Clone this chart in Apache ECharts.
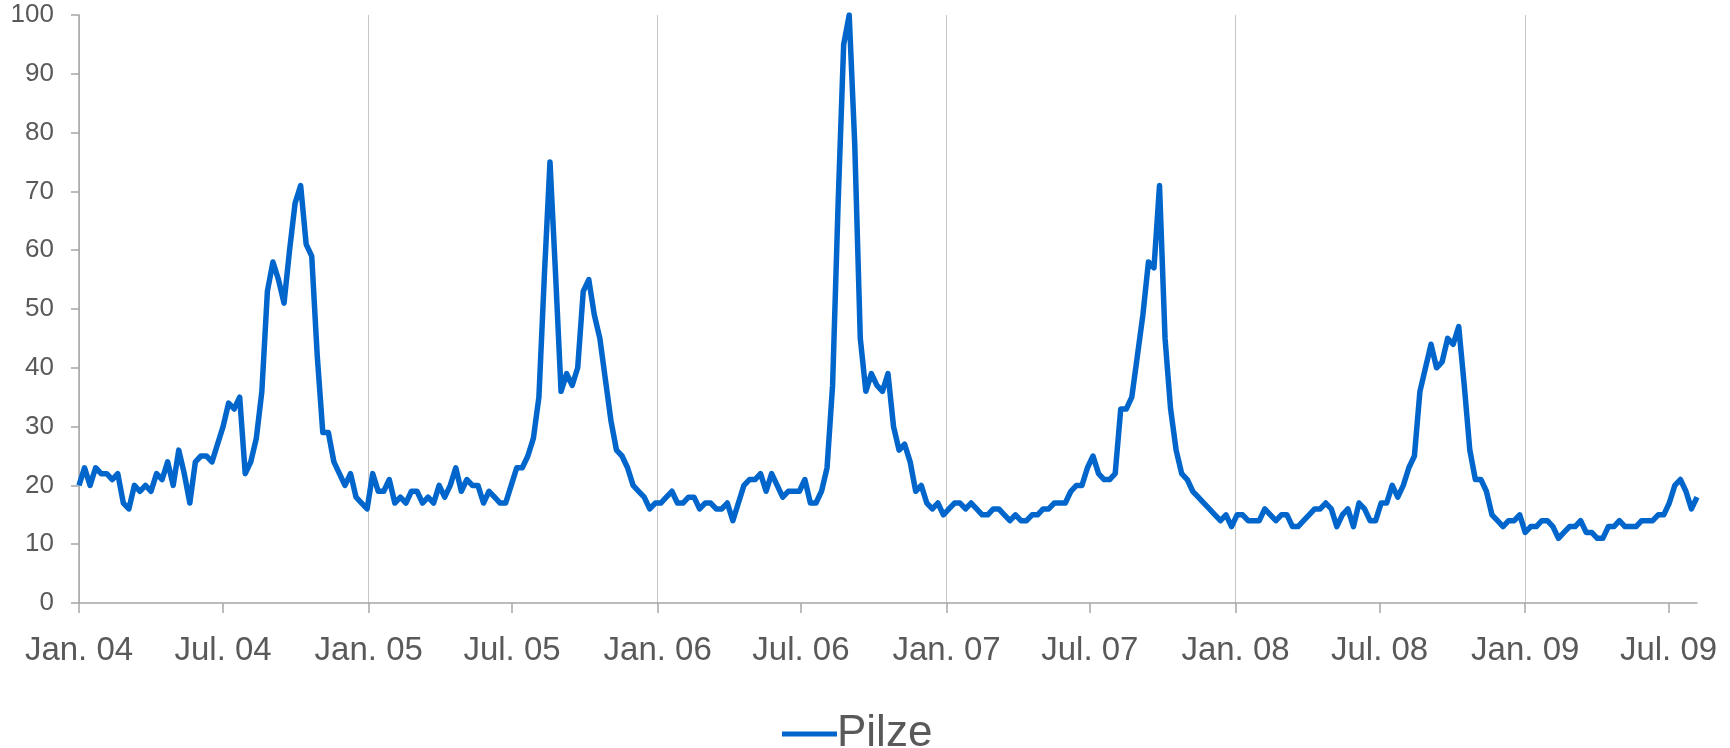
<!DOCTYPE html>
<html>
<head>
<meta charset="utf-8">
<script src="https://cdn.jsdelivr.net/npm/echarts@6/dist/echarts.min.js"></script>
<style>
html,body{margin:0;padding:0;background:#fff;}
#chart{width:1730px;height:748px;}
</style>
</head>
<body>
<div id="chart"></div>
<script>
// Weekly series (Google-Trends style index), first week starting 2004-01-04
const firstWeek = '2004-01-04';
const seriesName = 'Pilze';
const pilze = [
  20,23,20,23,22,22,21,22,17,16,20,19,20,19,22,21,24,20,26,22,17,24,25,25,24,27,30,34,33,35,22,24,28,
  36,53,58,55,51,60,68,71,61,59,42,29,29,24,22,20,22,18,17,16,22,19,19,21,17,18,17,19,19,17,18,17,20,18,20,
  23,19,21,20,20,17,19,18,17,17,20,23,23,25,28,35,56,75,56,36,39,37,40,53,55,49,45,38,31,26,25,23,20,19,
  18,16,17,17,18,19,17,17,18,18,16,17,17,16,16,17,14,17,20,21,21,22,19,22,20,18,19,19,19,21,17,17,19,23,
  37,68,95,100,78,45,36,39,37,36,39,30,26,27,24,19,20,17,16,17,15,16,17,17,16,17,16,15,15,16,16,15,14,15,
  14,14,15,15,16,16,17,17,17,19,20,20,23,25,22,21,21,22,33,33,35,42,49,58,57,71,45,33,26,22,21,19,18,17,16,
  15,14,15,13,15,15,14,14,14,16,15,14,15,15,13,13,14,15,16,16,17,16,13,15,16,13,17,16,14,14,17,17,20,18,
  20,23,25,36,40,44,40,41,45,44,47,37,26,21,21,19,15,14,13,14,14,15,12,13,13,
  14,14,13,11,12,13,13,14,12,12,11,11,13,13,14,13,13,13,14,14,14,15,15,17,20,21,19,16,18
];
// x-axis tick dates and their labels
const tickDates  = ['2004-01-04','2004-07-04','2005-01-04','2005-07-04','2006-01-04','2006-07-04',
                    '2007-01-04','2007-07-04','2008-01-04','2008-07-04','2009-01-04','2009-07-04'];
const tickLabels = ['Jan. 04','Jul. 04','Jan. 05','Jul. 05','Jan. 06','Jul. 06',
                    'Jan. 07','Jul. 07','Jan. 08','Jul. 08','Jan. 09','Jul. 09'];
const yTicks = [0,10,20,30,40,50,60,70,80,90,100];

function ts(s){ const p=s.split('-').map(Number); return Date.UTC(p[0],p[1]-1,p[2]); }
const DAY = 86400000;
const start = ts(firstWeek);
// x positions in days since the first week
const weekDays = pilze.map((_, i) => i*7);
const data = pilze.map((v, i) => [weekDays[i], v]);
const tickDay = tickDates.map(s => Math.round((ts(s) - start) / DAY));
const janDay = tickDay.filter((_, i) => tickLabels[i].indexOf('Jan') === 0);
const labelOf = {};
tickDay.forEach((d, i) => { labelOf[d] = tickLabels[i]; });
const xMin = weekDays[0], xMax = weekDays[weekDays.length-1];

const FONT = '"Liberation Sans", Arial, sans-serif';
const chart = echarts.init(document.getElementById('chart'), null, {renderer:'canvas'});
chart.setOption({
  animation: false,
  backgroundColor: '#ffffff',
  textStyle: {fontFamily: FONT},
  grid: {left: 79, right: 33, top: 15, bottom: 145, containLabel: false},
  legend: {
    data: [seriesName],
    left: 777, top: 707,
    icon: 'rect', itemWidth: 55, itemHeight: 5, itemGap: 0,
    textStyle: {fontSize: 44, color: '#595959', fontFamily: FONT, padding: [0,0,0,-5]}
  },
  xAxis: [{
    type: 'value',
    min: xMin, max: xMax,
    axisLine: {show: true, lineStyle: {color: '#a6a6a6', width: 1.5}},
    axisTick: {show: true, length: 10, lineStyle: {color: '#a6a6a6', width: 1.5}, customValues: tickDay},
    axisLabel: {
      customValues: tickDay, fontSize: 33, color: '#595959', margin: 31, fontFamily: FONT,
      formatter: v => labelOf[v] || ''
    },
    splitLine: {show: false}
  }, {
    type: 'value', position: 'bottom',
    min: xMin, max: xMax,
    axisLine: {show: false},
    axisTick: {show: false, customValues: janDay},
    axisLabel: {show: false, customValues: janDay},
    splitLine: {show: true, lineStyle: {color: '#c6c6c6', width: 1}}
  }],
  yAxis: {
    type: 'value', min: 0, max: 100, interval: 10,
    axisLine: {show: true, lineStyle: {color: '#a6a6a6', width: 1.5}},
    axisTick: {show: true, length: 8, lineStyle: {color: '#a6a6a6', width: 1.5}},
    axisLabel: {fontSize: 26, color: '#595959', margin: 25, fontFamily: FONT,
      formatter: v => yTicks.indexOf(v) >= 0 ? String(v) : ''},
    splitLine: {show: false}
  },
  series: [{
    name: seriesName, type: 'line', data: data, xAxisIndex: 0,
    showSymbol: false, symbol: 'none',
    lineStyle: {color: '#0066cc', width: 5.5, join: 'round'},
    itemStyle: {color: '#0066cc'}
  }]
});
</script>
</body>
</html>
